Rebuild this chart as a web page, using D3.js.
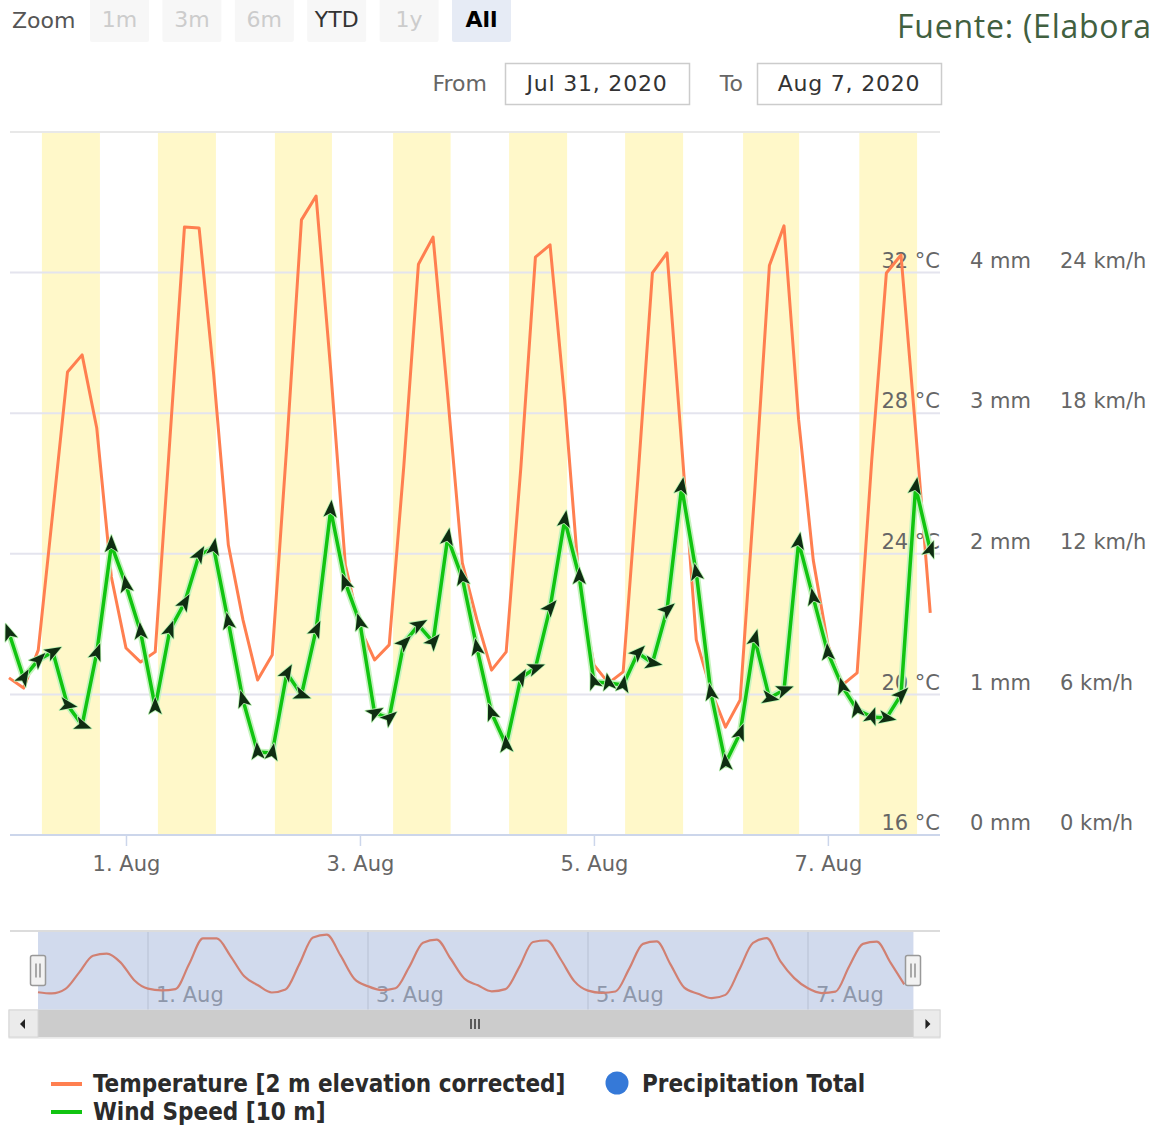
<!DOCTYPE html>
<html>
<head>
<meta charset="utf-8">
<script src="https://cdn.jsdelivr.net/npm/d3@7"></script>
<style>
  body { margin: 0; background: #fff; }
  svg { display: block; font-family: "DejaVu Sans", Verdana, sans-serif; }
</style>
</head>
<body>
<svg id="chart"></svg>
<script>
// 3-hourly values, 31 Jul 2020 00:00 .. 7 Aug 2020 21:00
const startDate = new Date(2020, 6, 31, 0);
const endDate = new Date(2020, 7, 7, 23);
const stepHours = 3;

const temperature = [
  20.47, 20.18, 21.26, 25.2, 29.17, 29.66, 27.58, 23.34,
  21.32, 20.92, 21.21, 27.24, 33.3, 33.27, 29.09, 24.25,
  22.12, 20.41, 21.12, 27.1, 33.5, 34.18, 29.23, 23.68,
  21.89, 20.98, 21.41, 26.5, 32.24, 33.01, 28.5, 23.74,
  22.12, 20.69, 21.21, 26.44, 32.44, 32.79, 28.38, 23.11,
  20.84, 20.32, 20.64, 26.1, 31.99, 32.56, 27.1, 21.55,
  20.12, 19.07, 19.84, 25.8, 32.2, 33.33, 27.81, 23.82,
  21.41, 20.27, 20.61, 26.67, 31.99, 32.5, 27.52, 22.32
];

const windSpeed = [
  8.62, 6.7, 7.47, 7.81, 5.55, 4.69, 7.77, 12.38,
  10.67, 8.66, 5.46, 8.75, 9.9, 11.95, 12.25, 9.09,
  5.76, 3.54, 3.5, 6.91, 5.98, 8.75, 13.87, 10.76,
  9.05, 5.21, 4.99, 8.19, 8.96, 8.24, 12.68, 10.97,
  7.98, 5.21, 3.84, 6.7, 7.13, 9.69, 13.44, 11.01,
  6.53, 6.49, 6.4, 7.77, 7.34, 9.6, 14.85, 11.18,
  6.06, 3.07, 4.35, 8.37, 5.85, 6.19, 12.5, 10.12,
  7.77, 6.32, 5.34, 5.04, 4.99, 5.98, 14.85, 12.16
];

// direction the arrow points to, degrees clockwise from north
const windArrow = [
  -20, 30, 45, 60, 100, 110, 20, 0,
  -10, -5, 0, 20, 30, 30, 10, -10,
  -15, -5, 10, 30, 110, 25, 5, -20,
  -15, 60, 50, 45, 60, 40, 10, -10,
  -10, -20, -5, 30, 70, 40, 10, 0,
  -20, -10, 10, 45, 100, 50, 10, -10,
  -10, -5, 20, 15, 100, 70, 10, -10,
  -5, -15, -10, 20, 100, 45, 10, 20
];

// daylight bands (hours of day) for 31 Jul .. 7 Aug
const sunriseHours = [6.75, 6.55, 6.55, 6.8, 6.6, 6.4, 6.6, 6.45];
const sunsetHours = [18.65, 18.45, 18.25, 18.6, 18.5, 18.3, 18.1, 18.3];

const tempTicks = [16, 20, 24, 28, 32];
const precipTicks = [0, 1, 2, 3, 4];
const windTicks = [0, 6, 12, 18, 24];
const gridTicks = [20, 24, 28, 32, 36];
const dateTicks = [new Date(2020, 7, 1), new Date(2020, 7, 3), new Date(2020, 7, 5), new Date(2020, 7, 7)];

const zoomButtons = ["1m", "3m", "6m", "YTD", "1y", "All"];
const zoomState = ["off", "off", "off", "on", "off", "selected"];
const rangeLabels = ["From", "To"];
const rangeValues = ["Jul 31, 2020", "Aug 7, 2020"];
const seriesNames = ["Temperature [2 m elevation corrected]", "Wind Speed [10 m]", "Precipitation Total"];
const caption = "Fuente: (Elabora";

const width = 1155;
const height = 1126;

const svg = d3.select("#chart").attr("width", width).attr("height", height);

const times = temperature.map((_, i) => d3.timeHour.offset(startDate, i * stepHours));

const x = d3.scaleTime().domain([startDate, endDate]).range([9, 940]);
const yTemp = d3.scaleLinear().domain([16, 36]).range([835, 132]);
const yWind = d3.scaleLinear().domain([0, 30]).range([835, 132]);
const yPrecip = d3.scaleLinear().domain([0, 5]).range([835, 132]);

// ---- top: zoom buttons, range inputs, caption
svg.append("text")
  .attr("x", 12).attr("y", 28)
  .attr("font-size", 22).attr("fill", "#555")
  .text("Zoom");

const btn = svg.append("g").selectAll("g").data(zoomButtons).join("g")
  .attr("transform", (d, i) => `translate(${90 + i * 72.4},-4)`);

btn.append("rect")
  .attr("width", 59).attr("height", 46).attr("rx", 2)
  .attr("fill", (d, i) => (zoomState[i] === "selected" ? "#e6ebf5" : "#f7f7f7"));

btn.append("text")
  .attr("x", 29.5).attr("y", 31)
  .attr("text-anchor", "middle")
  .attr("font-size", 22)
  .attr("font-weight", (d, i) => (zoomState[i] === "selected" ? "bold" : "normal"))
  .attr("fill", (d, i) => (zoomState[i] === "off" ? "#cccccc" : zoomState[i] === "on" ? "#333" : "#000"))
  .text((d) => d);

const rangeBox = svg.append("g").selectAll("g").data(rangeValues).join("g")
  .attr("transform", (d, i) => `translate(${i === 0 ? 505 : 757},63)`);

rangeBox.append("rect")
  .attr("x", 0.5).attr("y", 0.5)
  .attr("width", 184).attr("height", 41)
  .attr("fill", "#fff").attr("stroke", "#cccccc").attr("stroke-width", 1.5);

rangeBox.append("text")
  .attr("x", 92).attr("y", 28)
  .attr("text-anchor", "middle")
  .attr("font-size", 22).attr("fill", "#333")
  .attr("letter-spacing", 0.8)
  .text((d) => d);

svg.append("g").selectAll("text").data(rangeLabels).join("text")
  .attr("x", (d, i) => (i === 0 ? 487 : 743))
  .attr("y", 91)
  .attr("text-anchor", "end")
  .attr("font-size", 22).attr("fill", "#666")
  .text((d) => d);

svg.append("text")
  .attr("x", 897).attr("y", 38)
  .attr("font-family", "'Open Sans', sans-serif")
  .attr("font-size", 32).attr("fill", "#416040")
  .attr("textLength", 254)
  .attr("lengthAdjust", "spacing")
  .text(caption);

// ---- daylight bands
const days = d3.timeDay.range(startDate, d3.timeDay.offset(endDate, 1));

svg.append("g").selectAll("rect").data(days).join("rect")
  .attr("x", (d, i) => x(d3.timeMinute.offset(d, sunriseHours[i] * 60)))
  .attr("width", (d, i) => x(d3.timeMinute.offset(d, sunsetHours[i] * 60)) - x(d3.timeMinute.offset(d, sunriseHours[i] * 60)))
  .attr("y", yTemp(36))
  .attr("height", yTemp(16) - yTemp(36))
  .attr("fill", "#fff8c9");

// ---- grid
svg.append("g").selectAll("line").data(gridTicks).join("line")
  .attr("x1", 10).attr("x2", 940)
  .attr("y1", (d) => yTemp(d)).attr("y2", (d) => yTemp(d))
  .attr("stroke", (d) => (d === 36 ? "#e8e8e8" : "#e4e4ee"))
  .attr("stroke-width", 2);

// ---- x axis
const xAxis = svg.append("g")
  .attr("transform", `translate(0,${yTemp(16)})`)
  .call(d3.axisBottom(x).tickValues(dateTicks).tickSize(11).tickPadding(10).tickFormat(d3.timeFormat("%-d. %b")));

xAxis.select(".domain").remove();
xAxis.selectAll("line").attr("stroke", "#ccd6eb").attr("stroke-width", 1.5);
xAxis.selectAll("text").attr("font-size", 21).attr("fill", "#666").attr("font-family", "DejaVu Sans");

svg.append("line")
  .attr("x1", 10).attr("x2", 940)
  .attr("y1", yTemp(16)).attr("y2", yTemp(16))
  .attr("stroke", "#ccd6eb").attr("stroke-width", 2);

// ---- y axes (labels sit just above their grid line)
function styleAxis(g) {
  g.select(".domain").remove();
  g.selectAll("line").remove();
  g.selectAll("text").attr("font-size", 21).attr("fill", "#666").attr("font-family", "DejaVu Sans");
}

svg.append("g")
  .attr("transform", "translate(940,-12)")
  .call(d3.axisLeft(yTemp).tickValues(tempTicks).tickSize(0).tickPadding(0).tickFormat((d) => d + " °C"))
  .call(styleAxis);

svg.append("g")
  .attr("transform", "translate(970,-12)")
  .call(d3.axisRight(yPrecip).tickValues(precipTicks).tickSize(0).tickPadding(0).tickFormat((d) => d + " mm"))
  .call(styleAxis);

svg.append("g")
  .attr("transform", "translate(1060,-12)")
  .call(d3.axisRight(yWind).tickValues(windTicks).tickSize(0).tickPadding(0).tickFormat((d) => d + " km/h"))
  .call(styleAxis);

// ---- series
const tempLine = d3.line()
  .x((d, i) => x(times[i]))
  .y((d) => yTemp(d));

svg.append("path")
  .datum(temperature)
  .attr("d", tempLine)
  .attr("fill", "none")
  .attr("stroke", "#ff7f50")
  .attr("stroke-width", 3)
  .attr("stroke-linejoin", "round");

const windLine = d3.line()
  .x((d, i) => x(times[i]))
  .y((d) => yWind(d));

svg.append("path")
  .datum(windSpeed)
  .attr("d", windLine)
  .attr("fill", "none")
  .attr("stroke", "#c6f3bf")
  .attr("stroke-width", 7)
  .attr("stroke-linejoin", "round");

svg.append("path")
  .datum(windSpeed)
  .attr("d", windLine)
  .attr("fill", "none")
  .attr("stroke", "#11c411")
  .attr("stroke-width", 3.5)
  .attr("stroke-linejoin", "round");

svg.append("g").selectAll("path").data(windSpeed).join("path")
  .attr("d", "M0,-10 L6.5,7 L0,3 L-6.5,7 Z")
  .attr("transform", (d, i) => `translate(${x(times[i])},${yWind(d)}) rotate(${windArrow[i]})`)
  .attr("fill", "#0f2d12")
  .attr("stroke", "#b8f2b0")
  .attr("stroke-width", 1.6)
  .attr("stroke-linejoin", "round")
  .attr("paint-order", "stroke");

// ---- navigator
const x2 = d3.scaleTime()
  .domain([startDate, new Date(2020, 7, 8)])
  .range([38, 918]);
const yNav = d3.scaleLinear().domain([16, 36]).range([1011, 927]);

svg.append("line")
  .attr("x1", 10).attr("x2", 940)
  .attr("y1", 931).attr("y2", 931)
  .attr("stroke", "#dcdcdc").attr("stroke-width", 2);

svg.append("g").selectAll("line").data(dateTicks).join("line")
  .attr("x1", (d) => x2(d)).attr("x2", (d) => x2(d))
  .attr("y1", 932).attr("y2", 1010)
  .attr("stroke", "#e6e6e6").attr("stroke-width", 1.5);

svg.append("g").selectAll("text").data(dateTicks).join("text")
  .attr("x", (d) => x2(d) + 8)
  .attr("y", 1002)
  .attr("font-size", 21).attr("fill", "#a0a0a0")
  .text(d3.timeFormat("%-d. %b"));

svg.append("path")
  .datum(temperature)
  .attr("d", d3.line().curve(d3.curveMonotoneX).x((d, i) => x2(times[i])).y((d) => yNav(d)))
  .attr("fill", "none")
  .attr("stroke", "#ff7f50")
  .attr("stroke-width", 2.2);

svg.append("rect")
  .attr("x", x2(startDate)).attr("y", 932)
  .attr("width", x2(endDate) - x2(startDate)).attr("height", 78)
  .attr("fill", "rgba(102,133,194,0.3)");

const handles = svg.append("g").selectAll("g").data([startDate, endDate]).join("g")
  .attr("transform", (d) => `translate(${Math.round(x2(d)) - 7.5},955.5)`);

handles.append("rect")
  .attr("width", 15).attr("height", 30).attr("rx", 2)
  .attr("fill", "#f2f2f2").attr("stroke", "#999").attr("stroke-width", 1.5);

handles.selectAll("line").data([5.5, 9.5]).join("line")
  .attr("x1", (d) => d).attr("x2", (d) => d)
  .attr("y1", 8).attr("y2", 22)
  .attr("stroke", "#777").attr("stroke-width", 1.2);

// scrollbar
svg.append("rect")
  .attr("x", 9).attr("y", 1010).attr("width", 931).attr("height", 28)
  .attr("fill", "#f2f2f2").attr("stroke", "#e0e0e0");

svg.append("rect")
  .attr("x", x2(startDate)).attr("y", 1010)
  .attr("width", x2(endDate) - x2(startDate)).attr("height", 27)
  .attr("fill", "#cccccc");

const arrowBtn = svg.append("g").selectAll("g").data([-1, 1]).join("g")
  .attr("transform", (d) => `translate(${d < 0 ? 9 : x2(endDate)},1010)`);

arrowBtn.append("rect")
  .attr("width", (d) => (d < 0 ? x2(startDate) - 9 : 940 - x2(endDate)))
  .attr("height", 27)
  .attr("fill", "#ebebeb").attr("stroke", "#d6d6d6");

arrowBtn.append("path")
  .attr("transform", "translate(14,14)")
  .attr("d", (d) => (d < 0 ? "M-3,0 L2,-5 L2,5 Z" : "M3,0 L-2,-5 L-2,5 Z"))
  .attr("fill", "#222");

svg.append("g").selectAll("line").data([-4, 0, 4]).join("line")
  .attr("x1", (d) => 475 + d).attr("x2", (d) => 475 + d)
  .attr("y1", 1019).attr("y2", 1029)
  .attr("stroke", "#333").attr("stroke-width", 1.5);

// ---- legend
const legend = svg.append("g")
  .attr("font-family", "'DejaVu Sans Condensed', 'DejaVu Sans', sans-serif")
  .attr("font-weight", "bold")
  .attr("font-size", 24)
  .attr("fill", "#2b2b2b");

legend.append("line")
  .attr("x1", 51).attr("x2", 82).attr("y1", 1084).attr("y2", 1084)
  .attr("stroke", "#ff7f50").attr("stroke-width", 4);
legend.append("text").attr("x", 93).attr("y", 1092).text(seriesNames[0]);

legend.append("line")
  .attr("x1", 51).attr("x2", 82).attr("y1", 1112).attr("y2", 1112)
  .attr("stroke", "#11c411").attr("stroke-width", 4);
legend.append("text").attr("x", 93).attr("y", 1120).text(seriesNames[1]);

legend.append("circle")
  .attr("cx", 617).attr("cy", 1083).attr("r", 11.5)
  .attr("fill", "#3579d8");
legend.append("text").attr("x", 642).attr("y", 1092).text(seriesNames[2]);
</script>
</body>
</html>
